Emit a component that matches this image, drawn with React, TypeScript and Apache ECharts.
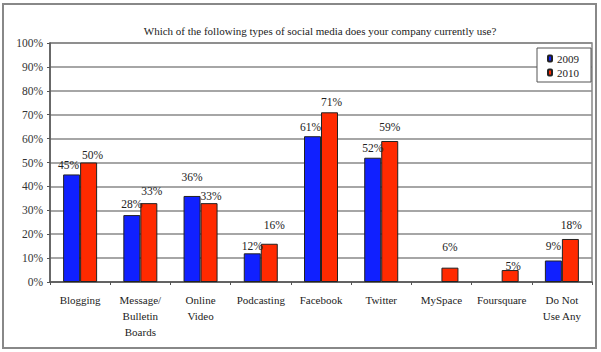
import React, { useEffect, useRef } from "react";
import * as echarts from "echarts";

const categories = [
  "Blogging",
  "Message/\nBulletin\nBoards",
  "Online\nVideo",
  "Podcasting",
  "Facebook",
  "Twitter",
  "MySpace",
  "Foursquare",
  "Do Not\nUse Any",
];
const values2009: (number | null)[] = [45, 28, 36, 12, 61, 52, null, null, 9];
const values2010: number[] = [50, 33, 33, 16, 71, 59, 6, 5, 18];
const yTicks = [0, 10, 20, 30, 40, 50, 60, 70, 80, 90, 100];

// label nudges (pixels) to mimic the original's hand-placed labels
const nudge2009: [number, number][] = [[-3, -1], [0, -3], [0, -11], [0, 1], [-2, -1], [0, -2], [0, 0], [0, 0], [0, -6]];
const nudge2010: [number, number][] = [[4, 0], [3, -4], [2, 1], [5, -11], [2, -2], [0, -6], [0, -13], [3, 4], [1, -6]];

const FONT = "'Times New Roman', 'Liberation Serif', serif";

export default function App() {
  const ref = useRef<HTMLDivElement>(null);
  useEffect(() => {
    if (!ref.current) return;
    const chart = echarts.init(ref.current, undefined, { renderer: "svg" });
    const mk = (vals: (number | null)[], nudges: [number, number][]) =>
      vals.map((v, i) =>
        v === null ? "-" : { value: v, label: { offset: nudges[i] } }
      );
    const labelCfg = {
      show: true,
      position: "top",
      distance: 2,
      formatter: "{c}%",
      fontFamily: FONT,
      fontSize: 11.5,
      color: "#222",
    };
    chart.setOption({
      animation: false,
      backgroundColor: "#fff",
      title: {
        text: "Which of the following types of social media does your company currently use?",
        left: 315,
        top: 20,
        textAlign: "center",
        textStyle: { fontFamily: FONT, fontSize: 11, fontWeight: "normal", color: "#222" },
      },
      legend: {
        data: ["2009", "2010"],
        orient: "vertical",
        right: 10,
        top: 48,
        itemWidth: 4,
        itemHeight: 6,
        itemGap: 3,
        itemTextGap: 2,
        padding: [5, 12, 4, 10],
        borderColor: "#555",
        borderWidth: 1,
        backgroundColor: "#fff",
        textStyle: { fontFamily: FONT, fontSize: 11, color: "#222" },
      },
      grid: {
        left: 50,
        right: 9,
        top: 43,
        bottom: 70,
        show: true,
        borderColor: "#888",
        borderWidth: 1.5,
        backgroundColor: "transparent",
      },
      xAxis: {
        type: "category",
        data: categories,
        axisLine: { lineStyle: { color: "#555", width: 1.5 } },
        axisTick: { show: true, length: 3, lineStyle: { color: "#555" } },
        axisLabel: {
          interval: 0,
          margin: 10,
          fontFamily: FONT,
          fontSize: 11,
          lineHeight: 16,
          color: "#222",
        },
      },
      yAxis: {
        type: "value",
        min: yTicks[0],
        max: yTicks[yTicks.length - 1],
        interval: 10,
        axisLine: { show: true, lineStyle: { color: "#555", width: 1.5 } },
        axisTick: { show: true, length: 3, lineStyle: { color: "#555" } },
        axisLabel: {
          formatter: "{value}%",
          fontFamily: FONT,
          fontSize: 11.5,
          color: "#333",
          margin: 7,
        },
        splitLine: { lineStyle: { color: "#888", width: 1.5 } },
      },
      series: [
        {
          name: "2009",
          type: "bar",
          barWidth: 17,
          barGap: 0,
          data: mk(values2009, nudge2009),
          itemStyle: { color: "#1020ff", borderColor: "#222", borderWidth: 1 },
          label: labelCfg,
        },
        {
          name: "2010",
          type: "bar",
          barWidth: 17,
          barGap: 0,
          data: mk(values2010, nudge2010),
          itemStyle: { color: "#ff2a00", borderColor: "#222", borderWidth: 1 },
          label: labelCfg,
        },
      ],
      graphic: [
        {
          type: "rect",
          shape: { x: 3, y: 4, width: 593, height: 344 },
          style: { fill: "none", stroke: "#888", lineWidth: 2 },
          silent: true,
        },
      ],
    });
    return () => chart.dispose();
  }, []);
  return <div ref={ref} style={{ width: 601, height: 352, position: "absolute", left: 0, top: 0 }} />;
}
